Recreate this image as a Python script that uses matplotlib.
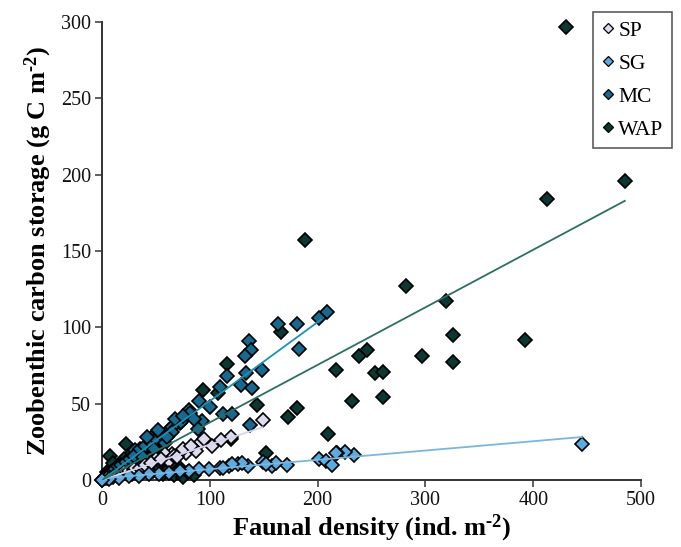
import matplotlib
matplotlib.use("Agg")
import matplotlib.pyplot as plt
from matplotlib.lines import Line2D
import numpy as np

plt.rcParams['font.family'] = ['Liberation Serif', 'DejaVu Serif']
plt.rcParams['mathtext.fontset'] = 'custom'
plt.rcParams['mathtext.rm'] = 'Liberation Serif:bold'
plt.rcParams['mathtext.bf'] = 'Liberation Serif:bold'
plt.rcParams['mathtext.default'] = 'rm'

series_names = ["SP", "SG", "MC", "WAP"]

sp_x = [149, 120, 102, 92, 78, 87, 65, 58, 50, 62, 67, 5, 10, 15, 20, 25, 30, 35, 40, 45, 55, 70, 75, 83, 95, 110]
sp_y = [39, 28, 22, 25, 18, 19, 17, 17, 13.5, 12.5, 15.5, 1, 2, 3, 5, 6, 7, 8, 10, 11, 14, 15, 20, 22, 27, 26]

sg_x = [445, 234, 225, 218, 217, 201, 208, 213, 172, 158, 149, 161, 152, 135, 126, 118, 109, 99, 90, 81, 72,
        62, 53, 44, 34, 25, 16, 6.5, 0, 130, 121, 112]
sg_y = [23.6, 16.3, 18.2, 17.9, 17.9, 13.5, 12.4, 10.0, 9.8, 9.4, 11.5, 11.4, 10.3, 9.2, 10.3, 9.2, 8.1, 7.0, 7.0,
        5.9, 5.9, 4.8, 3.7, 3.7, 2.6, 2.6, 1.5, 0.9, 0, 11.3, 10.2, 8.1]

mc_x = [209, 201, 163, 181, 183, 136, 138, 133, 134, 148, 116, 129, 139, 112, 121, 137, 100, 93, 89, 90, 81,
        72, 62, 65, 109, 82, 73, 65, 31, 2, 5, 8, 12, 15, 18, 22, 26, 30, 35, 40, 45, 50, 55, 58, 48, 42, 38,
        52, 60, 68, 75, 85]
mc_y = [110, 106, 102, 102, 86, 91, 85, 81, 70, 72, 68, 62, 60, 43, 43, 36, 48, 38.5, 33.4, 52, 46,
        37.5, 33, 35, 61, 44, 38, 31.7, 19.4, 1, 3, 5, 7, 9, 10, 12, 14, 16, 20, 22, 25, 27, 30, 24, 20, 28, 15,
        33, 28, 40, 42, 40]

wap_x = [430, 485, 413, 188, 282, 319, 326, 392, 297, 326, 238, 246, 217, 253, 261, 232, 261, 210, 181, 173,
         144, 152, 166, 116, 94, 108, 120, 50, 22, 7, 28, 38, 47, 56,
         0, 3, 8, 12, 18, 22, 28, 33, 38, 42, 47, 52, 57, 62, 67, 72, 30, 25, 15, 5, 10, 35, 45, 55, 65, 20,
         75, 80, 85]
wap_y = [297, 196, 184, 157, 127, 117, 95, 92, 81, 77, 81.5, 85, 72, 70, 71, 52, 54.5, 30, 47, 41,
         49, 18, 97, 76, 59, 57, 27, 31, 23.6, 16, 17.5, 18.6, 22, 17.5,
         0, 1, 2, 4, 3, 6, 4, 8, 5, 10, 6, 9, 4, 7, 3, 8, 12, 10, 8, 5, 11, 14, 15, 13, 12, 14,
         2, 5, 3]

# trend lines: slope, intercept, x range end
trend_slope = [0.232, 0.061, 0.517, 0.377]
trend_intercept = [0.0, 1.0, 0.0, 0.0]
trend_xmax = [149, 445, 203, 485]

face_colors = ["#dcdcee", "#5aace0", "#17698f", "#0b3832"]
line_colors = ["#d4d4ea", "#7ab6e0", "#1a92b4", "#2b6f63"]

fig = plt.figure(figsize=(6.81, 5.47), dpi=100)
ax = fig.add_axes([102/681, 67/547, 539/681, 458/547])

data = {"SP": (sp_x, sp_y), "SG": (sg_x, sg_y), "MC": (mc_x, mc_y), "WAP": (wap_x, wap_y)}
draw_order = ["WAP", "MC", "SP", "SG"]
for name in draw_order:
    i = series_names.index(name)
    x, y = data[name]
    ax.plot(x, y, linestyle='none', marker='D', markersize=7.3, markerfacecolor=face_colors[i],
            markeredgecolor='black', markeredgewidth=1.2, clip_on=False, zorder=3 + draw_order.index(name))

for i, name in enumerate(series_names):
    xs = np.array([0, trend_xmax[i]], dtype=float)
    ax.plot(xs, trend_slope[i] * xs + trend_intercept[i], color=line_colors[i], linewidth=1.3, zorder=10)

ax.set_xlim(0, 500)
ax.set_ylim(0, 300)
ax.set_xticks([0, 100, 200, 300, 400, 500])
ax.set_yticks([0, 50, 100, 150, 200, 250, 300])
ax.spines['top'].set_visible(False)
ax.spines['right'].set_visible(False)
for s in ['left', 'bottom']:
    ax.spines[s].set_color('#333333')
    ax.spines[s].set_linewidth(1.4)
ax.tick_params(axis='both', direction='out', length=5, width=1.1, color='#333333',
               labelsize=14.5, labelcolor='#111111', pad=3)

ax.set_xlabel(r"Faunal density (ind. m$^{\text{-2}}$)", fontsize=19, fontweight='bold', labelpad=2)
ax.set_ylabel(r"Zoobenthic carbon storage (g C m$^{\text{-2}}$)", fontsize=19, fontweight='bold', labelpad=5)

handles = [Line2D([], [], linestyle='none', marker='D', markersize=4.6, markerfacecolor=face_colors[i],
                  markeredgecolor='black', markeredgewidth=0.9) for i in range(4)]
leg = ax.legend(handles, series_names, loc='upper right', bbox_to_anchor=(672/681, 1 - 12/547),
                bbox_transform=fig.transFigure, fontsize=15.5, frameon=True, fancybox=False,
                edgecolor='#333333', handlelength=0.6, handletextpad=0.15, labelspacing=0.6,
                borderpad=0.4, borderaxespad=0)
leg.get_frame().set_linewidth(1.2)
leg.set_zorder(20)

fig.savefig("out.png", dpi=100)
